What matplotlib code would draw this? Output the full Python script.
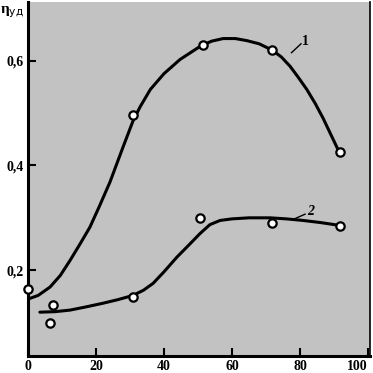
import matplotlib
matplotlib.use("Agg")
import matplotlib.pyplot as plt

# Curve 1 (smooth line)
c1_x = [0, 3, 6.5, 9.5, 12.4, 15.3, 18.2, 21, 24.1, 27.9, 30.9, 33, 36, 40, 44.7, 50.6, 54,
        57.4, 61, 64.4, 68, 71.8, 74.5, 77.1, 79.5, 82, 84.5, 86.8, 89, 91.2]
c1_y = [0.145, 0.152, 0.168, 0.19, 0.219, 0.25, 0.282, 0.322, 0.368, 0.434, 0.485, 0.512, 0.545,
        0.575, 0.602, 0.627, 0.637, 0.642, 0.642, 0.638, 0.632, 0.62, 0.607, 0.589, 0.568,
        0.545, 0.518, 0.49, 0.46, 0.43]
# Curve 2 (smooth line)
c2_x = [3.5, 8, 12.4, 17, 22, 26.5, 30.9, 34, 36.8, 40, 43.8, 47.3, 50.6, 53.5, 56.5, 60, 65,
        71.2, 76, 80.9, 86, 91.2]
c2_y = [0.12, 0.121, 0.124, 0.13, 0.137, 0.144, 0.152, 0.162, 0.175, 0.197, 0.225, 0.248, 0.27,
        0.287, 0.295, 0.298, 0.30, 0.30, 0.298, 0.295, 0.291, 0.286]
# Experimental points
p1_x = [0, 7.4, 30.9, 51.5, 71.8, 91.8]
p1_y = [0.164, 0.133, 0.497, 0.63, 0.62, 0.425]
p2_x = [6.5, 30.9, 50.6, 71.8, 91.8]
p2_y = [0.099, 0.149, 0.30, 0.29, 0.284]

x_ticks = [0, 20, 40, 60, 80, 100]
x_labels = ["0", "20", "40", "60", "80", "100"]
y_ticks = [0.2, 0.4, 0.6]
y_labels = ["0,2", "0,4", "0,6"]

plt.rcParams['font.family'] = ['Liberation Serif', 'DejaVu Serif']
fig = plt.figure(figsize=(3.73, 3.73), dpi=100)
fig.patch.set_facecolor('white')
ax = fig.add_axes([0.075, 0.045, 0.917, 0.95])
ax.set_facecolor('#c2c2c2')

ax.plot(c1_x, c1_y, color='black', lw=2.2, solid_capstyle='round', solid_joinstyle='round')
ax.plot(c2_x, c2_y, color='black', lw=2.2, solid_capstyle='round', solid_joinstyle='round')
ms = dict(marker='o', ms=6, mfc='white', mec='black', mew=1.6, ls='none', zorder=5, clip_on=False)
ax.plot(p1_x, p1_y, **ms)
ax.plot(p2_x, p2_y, **ms)

ax.set_xlim(0, 100.6)
ax.set_ylim(0.036, 0.712)
ax.set_xticks(x_ticks)
ax.set_xticklabels(x_labels)
ax.set_yticks(y_ticks)
ax.set_yticklabels(y_labels)
ax.tick_params(direction='in', length=6, width=1.5, labelsize=10, pad=3)
for lab in ax.get_xticklabels() + ax.get_yticklabels():
    lab.set_fontweight('bold')
ax.get_xticklabels()[-1].set_horizontalalignment('right')
ax.get_xticklabels()[-1].set_x(101.5)
ax.spines['left'].set_linewidth(2.2)
ax.spines['bottom'].set_linewidth(2.2)
ax.spines['right'].set_linewidth(1.2)
ax.spines['top'].set_visible(False)

ax.text(80.5, 0.63, "1", fontsize=10, fontweight='bold')
ax.plot([77.5, 80.3], [0.615, 0.632], color='black', lw=1)
ax.text(82, 0.305, "2", fontsize=10, fontweight='bold', style='italic')
ax.plot([78, 81.5], [0.297, 0.307], color='black', lw=1)

fig.text(0.0, 0.965, "η$_{\\rm уд}$", fontsize=11, fontweight='bold',
         family=['Liberation Serif', 'DejaVu Serif'])

fig.savefig("out.png", dpi=100)
